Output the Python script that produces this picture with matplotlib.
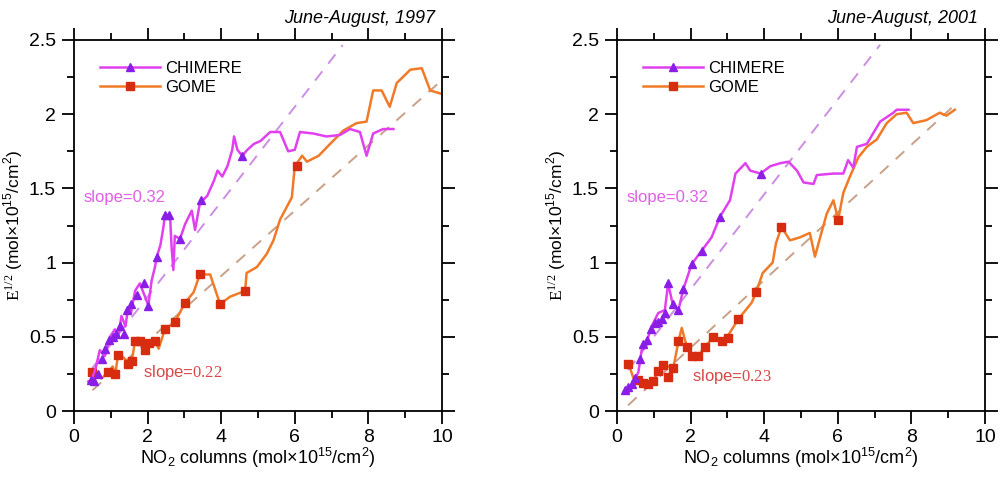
import numpy as np
import matplotlib.pyplot as plt

plt.rcParams['font.family'] = ['Liberation Sans', 'DejaVu Sans']
plt.rcParams['mathtext.fontset'] = 'custom'
plt.rcParams['mathtext.rm'] = 'Liberation Sans'
plt.rcParams['mathtext.tt'] = 'Liberation Serif'   # used for the serif bits (E, slope numbers)

# ---- June-August 1997 ----
chi97_x = [0.39, 0.48, 0.60, 0.70, 0.84, 0.98, 1.11, 1.20, 1.29, 1.40, 1.47, 1.55, 1.66, 1.79, 1.93,
           2.02, 2.11, 2.20, 2.25, 2.35, 2.43, 2.47, 2.61, 2.65, 2.70, 2.74, 2.88, 3.02, 3.20, 3.29,
           3.42, 3.62, 3.80, 3.90, 4.03, 4.17, 4.30, 4.35, 4.44, 4.57, 4.71, 4.89, 5.07, 5.33, 5.60,
           5.82, 6.00, 6.14, 6.50, 6.86, 7.23, 7.50, 7.77, 7.95, 8.13, 8.40, 8.68]
chi97_y = [0.20, 0.21, 0.30, 0.41, 0.37, 0.50, 0.55, 0.50, 0.64, 0.57, 0.70, 0.66, 0.81, 0.86, 0.77,
           0.71, 0.88, 0.97, 1.04, 1.12, 1.24, 1.32, 1.32, 1.11, 0.95, 1.18, 1.16, 1.26, 1.35, 1.22,
           1.40, 1.45, 1.55, 1.62, 1.58, 1.65, 1.76, 1.85, 1.76, 1.72, 1.76, 1.80, 1.82, 1.88, 1.88,
           1.75, 1.76, 1.88, 1.87, 1.85, 1.86, 1.90, 1.88, 1.72, 1.87, 1.90, 1.90]
chi97_mx = [0.45, 0.55, 0.65, 0.75, 0.85, 0.95, 1.05, 1.15, 1.25, 1.35, 1.45, 1.55, 1.70, 1.90, 2.02,
            2.25, 2.47, 2.57, 2.88, 3.44, 4.57]
chi97_my = [0.21, 0.20, 0.25, 0.35, 0.42, 0.48, 0.50, 0.52, 0.57, 0.52, 0.68, 0.72, 0.78, 0.86, 0.71,
            1.04, 1.32, 1.32, 1.16, 1.42, 1.72]

gome97_x = [0.50, 0.57, 0.75, 0.93, 1.05, 1.12, 1.20, 1.35, 1.48, 1.57, 1.66, 1.80, 1.93, 2.05, 2.20,
            2.30, 2.47, 2.74, 3.02, 3.25, 3.42, 3.70, 3.97, 4.24, 4.65, 4.69, 4.97, 5.24, 5.42, 5.60,
            5.92, 6.00, 6.20, 6.33, 6.65, 6.96, 7.32, 7.68, 7.95, 8.13, 8.36, 8.58, 8.77, 9.14, 9.45,
            9.68, 9.95]
gome97_y = [0.22, 0.26, 0.22, 0.26, 0.30, 0.25, 0.38, 0.36, 0.32, 0.34, 0.47, 0.47, 0.41, 0.46, 0.47,
            0.42, 0.55, 0.60, 0.73, 0.80, 0.92, 0.92, 0.72, 0.77, 0.81, 0.93, 0.97, 1.06, 1.15, 1.29,
            1.44, 1.65, 1.72, 1.68, 1.72, 1.80, 1.89, 1.94, 1.95, 2.16, 2.16, 2.05, 2.21, 2.30, 2.31,
            2.16, 2.14]
gome97_mx = [0.50, 0.93, 1.12, 1.20, 1.48, 1.57, 1.66, 1.80, 1.93, 2.05, 2.20, 2.47, 2.74, 3.02, 3.42,
             3.97, 4.65, 6.05]
gome97_my = [0.26, 0.26, 0.25, 0.38, 0.32, 0.34, 0.47, 0.47, 0.41, 0.46, 0.47, 0.55, 0.60, 0.73, 0.92,
             0.72, 0.81, 1.65]

# ---- June-August 2001 ----
chi01_x = [0.22, 0.31, 0.45, 0.58, 0.67, 0.76, 0.94, 1.12, 1.30, 1.39, 1.53, 1.67, 1.80, 2.03, 2.30,
           2.57, 2.80, 3.07, 3.22, 3.49, 3.62, 3.90, 4.17, 4.44, 4.66, 4.89, 5.07, 5.34, 5.43, 5.88,
           6.15, 6.28, 6.42, 6.52, 6.79, 7.15, 7.51, 7.60, 7.92]
chi01_y = [0.14, 0.12, 0.20, 0.26, 0.41, 0.43, 0.57, 0.66, 0.68, 0.86, 0.70, 0.68, 0.82, 0.99, 1.08,
           1.17, 1.31, 1.42, 1.60, 1.67, 1.62, 1.60, 1.65, 1.67, 1.68, 1.62, 1.54, 1.53, 1.59, 1.60,
           1.60, 1.69, 1.64, 1.78, 1.80, 1.95, 2.01, 2.03, 2.03]
chi01_mx = [0.22, 0.30, 0.40, 0.50, 0.62, 0.72, 0.82, 0.92, 1.02, 1.12, 1.22, 1.30, 1.39, 1.53, 1.67,
            1.80, 2.03, 2.30, 2.80, 3.90]
chi01_my = [0.14, 0.16, 0.18, 0.22, 0.35, 0.45, 0.48, 0.55, 0.59, 0.60, 0.62, 0.66, 0.86, 0.72, 0.68,
            0.82, 0.99, 1.08, 1.31, 1.60]

gome01_x = [0.31, 0.45, 0.58, 0.72, 0.85, 0.98, 1.12, 1.26, 1.39, 1.53, 1.67, 1.76, 1.90, 2.03, 2.20,
            2.39, 2.62, 2.84, 3.02, 3.30, 3.66, 3.78, 3.96, 4.23, 4.32, 4.47, 4.70, 4.97, 5.24, 5.38,
            5.52, 5.70, 5.88, 6.01, 6.15, 6.33, 6.56, 6.79, 7.06, 7.33, 7.60, 7.87, 8.05, 8.41, 8.77,
            8.95, 9.18]
gome01_y = [0.32, 0.22, 0.21, 0.19, 0.18, 0.20, 0.27, 0.31, 0.30, 0.29, 0.47, 0.56, 0.43, 0.37, 0.37,
            0.43, 0.50, 0.47, 0.51, 0.62, 0.73, 0.80, 0.93, 1.00, 1.13, 1.24, 1.15, 1.17, 1.20, 1.04,
            1.17, 1.33, 1.42, 1.29, 1.47, 1.58, 1.71, 1.78, 1.83, 1.94, 2.00, 2.01, 1.94, 1.96, 2.01,
            1.99, 2.03]
gome01_mx = [0.31, 0.58, 0.72, 0.85, 0.98, 1.12, 1.26, 1.39, 1.53, 1.67, 1.90, 2.03, 2.20, 2.39, 2.62,
             2.84, 3.02, 3.30, 3.78, 4.47, 6.01]
gome01_my = [0.32, 0.21, 0.19, 0.18, 0.20, 0.27, 0.31, 0.23, 0.29, 0.47, 0.43, 0.37, 0.37, 0.43, 0.50,
             0.47, 0.49, 0.62, 0.80, 1.24, 1.29]

# fitted slopes (slope, intercept, x-range) for the dashed guides
fit97_chi = (0.32, 0.13, [0.5, 7.3])
fit97_gome = (0.22, 0.03, [0.5, 10.0])
fit01_chi = (0.32, 0.18, [0.3, 7.15])
fit01_gome = (0.228, -0.03, [0.3, 9.2])

C_LINE = '#e040ee'
C_TRI = '#8a1ee6'
O_LINE = '#f07a28'
O_SQ = '#d82c10'
C_DASH = '#cc8ee0'
O_DASH = '#c8a088'

panels = [
    ('June-August, 1997', chi97_x, chi97_y, chi97_mx, chi97_my, gome97_x, gome97_y, gome97_mx, gome97_my,
     fit97_chi, fit97_gome, '0.22', (1.88, 0.26)),
    ('June-August, 2001', chi01_x, chi01_y, chi01_mx, chi01_my, gome01_x, gome01_y, gome01_mx, gome01_my,
     fit01_chi, fit01_gome, '0.23', (2.03, 0.23)),
]

fig = plt.figure(figsize=(10.06, 4.78), dpi=100)
lefts = [74 / 1006, 617 / 1006]
for left, p in zip(lefts, panels):
    (title, cx, cy, cmx, cmy, gx, gy, gmx, gmy, fc, fg, sg, sgpos) = p
    ax = fig.add_axes([left, 67 / 478, 368 / 1006, 371 / 478])

    for (m, b, xr), col in [(fc, C_DASH), (fg, O_DASH)]:
        xs = np.array(xr)
        ax.plot(xs, m * xs + b, '--', color=col, lw=1.4, dashes=(6, 5))

    ax.plot(gx, gy, color=O_LINE, lw=1.8)
    ax.plot(gmx, gmy, 's', color=O_SQ, ms=6, mec=O_SQ)
    ax.plot(cx, cy, color=C_LINE, lw=1.8)
    ax.plot(cmx, cmy, '^', color=C_TRI, ms=6, mec=C_TRI)

    # legend handles
    ax.plot([], [], color=C_LINE, lw=1.8, marker='^', mfc=C_TRI, mec=C_TRI, ms=6, label='CHIMERE')
    ax.plot([], [], color=O_LINE, lw=1.8, marker='s', mfc=O_SQ, mec=O_SQ, ms=6, label='GOME')
    h, l = ax.get_legend_handles_labels()
    ax.legend(h, l, loc='upper left', bbox_to_anchor=(0.03, 0.985), frameon=False,
              handlelength=3.6, handletextpad=0.3, labelspacing=0.25, fontsize=12, numpoints=1)

    ax.text(0.27, 1.44, 'slope=0.32', color='#e060e6', fontsize=12, va='center')
    ax.text(sgpos[0], sgpos[1], r'slope=$\mathtt{%s}$' % sg, color='#d84848', fontsize=12, va='center')

    ax.set_xlim(0, 10)
    ax.set_ylim(0, 2.5)
    ax.set_xticks([0, 2, 4, 6, 8, 10])
    ax.set_xticks([1, 3, 5, 7, 9], minor=True)
    ax.set_yticks([0, 0.5, 1, 1.5, 2, 2.5])
    ax.set_yticklabels(['0', '0.5', '1', '1.5', '2', '2.5'])
    ax.set_yticks([0.25, 0.75, 1.25, 1.75, 2.25], minor=True)
    ax.tick_params(which='both', direction='out', top=True, right=True, labelsize=14, width=1.3)
    ax.tick_params(which='major', length=9, pad=4)
    ax.tick_params(which='minor', length=5)
    for s in ax.spines.values():
        s.set_linewidth(1.3)

    ax.set_xlabel(r'NO$_2$ columns (mol$\times$10$^{15}$/cm$^2$)', fontsize=13, labelpad=0)
    ax.set_ylabel(r'$\mathtt{E^{1/2}}$ (mol$\times$10$^{15}$/cm$^2$)', fontsize=12.5, labelpad=3)
    ax.set_title(title, loc='right', style='italic', fontsize=13, pad=12, x=0.98)

plt.savefig('out.png', dpi=100)
